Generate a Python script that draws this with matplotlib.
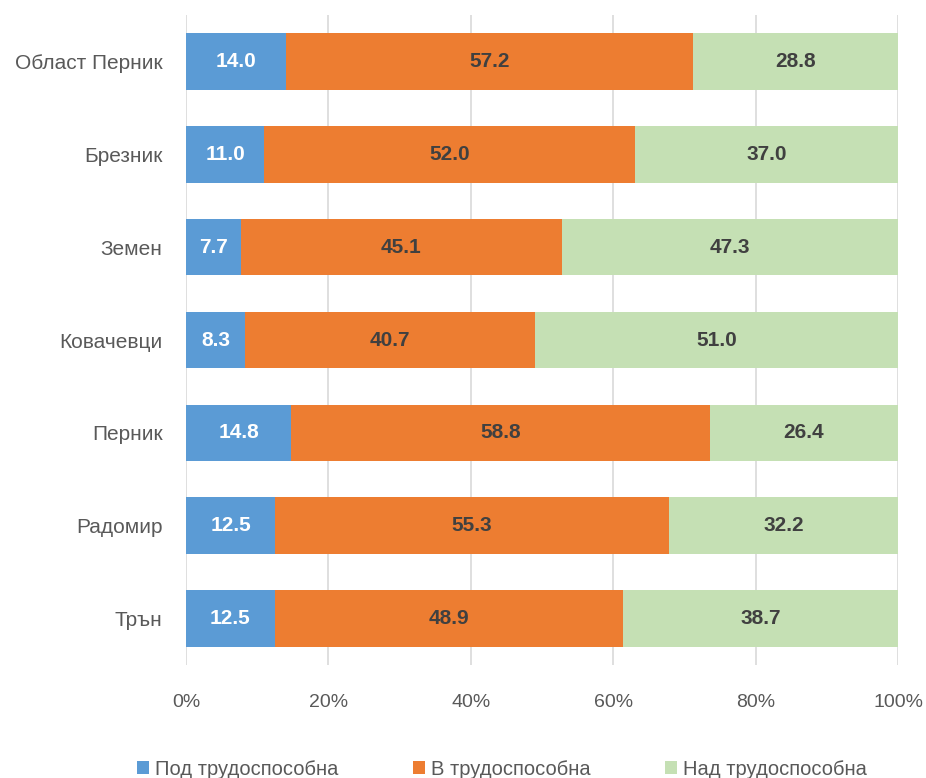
import matplotlib
matplotlib.use('Agg')
import matplotlib.pyplot as plt
import numpy as np

# данни
categories = ['Област Перник', 'Брезник', 'Земен', 'Ковачевци', 'Перник', 'Радомир', 'Трън']
pod = [14.0, 11.0, 7.7, 8.3, 14.8, 12.5, 12.5]
v = [57.2, 52.0, 45.1, 40.7, 58.8, 55.3, 48.9]
nad = [28.8, 37.0, 47.3, 51.0, 26.4, 32.2, 38.7]
series_names = ['Под трудоспособна', 'В трудоспособна', 'Над трудоспособна']
colors = ['#5B9BD5', '#ED7D31', '#C5E0B4']
label_colors = ['white', '#404040', '#404040']

plt.rcParams['font.family'] = ['Liberation Sans', 'DejaVu Sans']

fig = plt.figure(figsize=(9.26, 7.78), dpi=100)
ax = fig.add_axes([0.2009, 0.1452, 0.7689, 0.8355])

data = np.array([pod, v, nad])
totals = data.sum(axis=0)
shares = data / totals * 100
y = np.arange(len(categories))
left = np.zeros(len(categories))
for i in range(3):
    ax.barh(y, shares[i], left=left, height=0.61, color=colors[i],
            label=series_names[i], zorder=3)
    for j in range(len(categories)):
        ax.text(left[j] + shares[i][j] / 2, y[j], f'{data[i][j]:.1f}',
                ha='center', va='center', fontsize=15, fontweight='bold',
                color=label_colors[i], zorder=4)
    left += shares[i]

ax.set_ylim(len(categories) - 0.5, -0.5)
ax.set_xlim(0, 100)
ax.set_xticks(np.arange(0, 101, 20))
ax.set_xticklabels([f'{t}%' for t in range(0, 101, 20)])
ax.set_yticks(y)
ax.set_yticklabels(categories)
ax.tick_params(axis='x', length=0, pad=21, labelsize=14, labelcolor='#595959')
ax.tick_params(axis='y', length=0, pad=17, labelsize=15, labelcolor='#595959')
ax.grid(axis='x', color='#D9D9D9', linewidth=1.2, zorder=0)
for s in ax.spines.values():
    s.set_visible(False)

ax.legend(loc='upper center', bbox_to_anchor=(0.444, -0.118), ncol=3, frameon=False,
          fontsize=14.5, handlelength=0.6, handleheight=0.6, handletextpad=0.3,
          columnspacing=3.7, labelcolor='#595959')

fig.savefig('out.png', dpi=100)
